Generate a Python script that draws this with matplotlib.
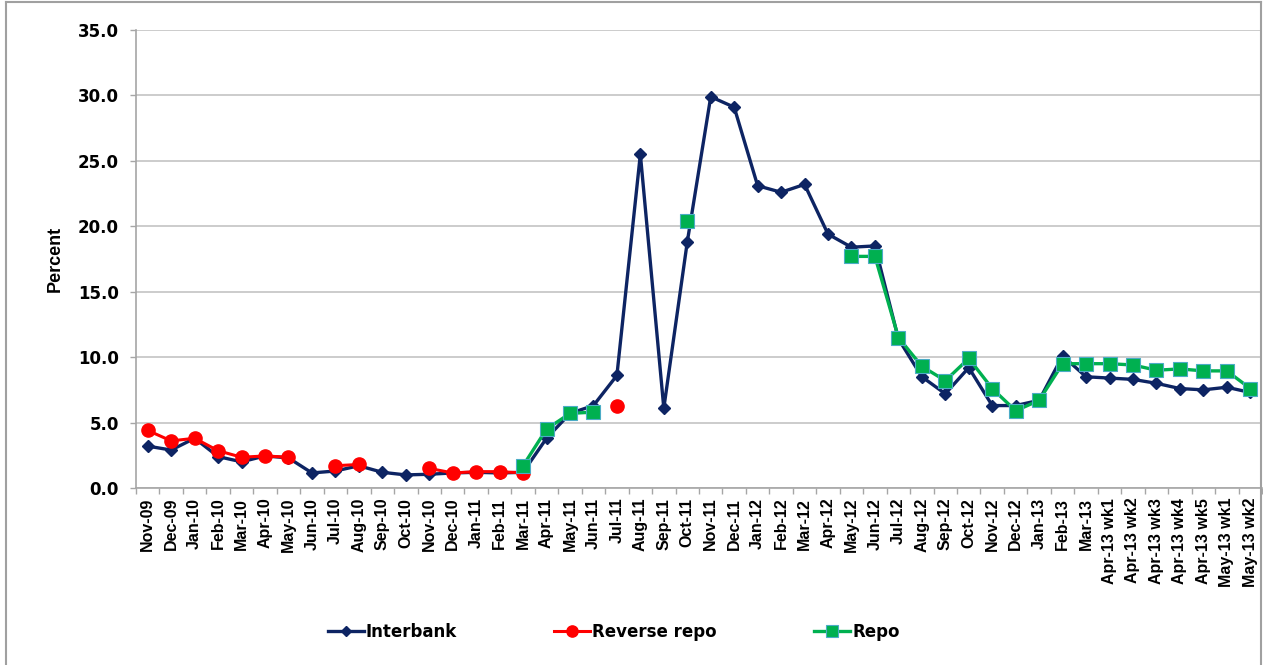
import numpy as np
import matplotlib
matplotlib.use("Agg")
import matplotlib.pyplot as plt
from matplotlib.lines import Line2D

nan = np.nan

months = [
    "Nov-09", "Dec-09", "Jan-10", "Feb-10", "Mar-10", "Apr-10", "May-10", "Jun-10",
    "Jul-10", "Aug-10", "Sep-10", "Oct-10", "Nov-10", "Dec-10", "Jan-11", "Feb-11",
    "Mar-11", "Apr-11", "May-11", "Jun-11", "Jul-11", "Aug-11", "Sep-11", "Oct-11",
    "Nov-11", "Dec-11", "Jan-12", "Feb-12", "Mar-12", "Apr-12", "May-12", "Jun-12",
    "Jul-12", "Aug-12", "Sep-12", "Oct-12", "Nov-12", "Dec-12", "Jan-13", "Feb-13",
    "Mar-13", "Apr-13 wk1", "Apr-13 wk2", "Apr-13 wk3", "Apr-13 wk4", "Apr-13 wk5",
    "May-13 wk1", "May-13 wk2",
]

interbank = [
    3.2, 2.9, 3.8, 2.4, 2.0, 2.45, 2.3, 1.15,
    1.3, 1.7, 1.2, 1.0, 1.05, 1.15, 1.2, 1.15,
    1.2, 3.8, 5.7, 6.3, 8.6, 25.5, 6.1, 18.8,
    29.9, 29.1, 23.1, 22.6, 23.2, 19.4, 18.4, 18.5,
    11.4, 8.5, 7.2, 9.2, 6.3, 6.3, 6.7, 10.1,
    8.5, 8.4, 8.3, 8.0, 7.6, 7.5, 7.7, 7.3,
]

reverse_repo = [
    4.4, 3.6, 3.8, 2.85, 2.35, 2.45, 2.35, nan,
    1.7, 1.8, nan, nan, 1.5, 1.15, 1.25, 1.25,
    1.15, nan, nan, nan, 6.3, nan, nan, nan,
    nan, nan, nan, nan, nan, nan, nan, nan,
    nan, nan, nan, nan, nan, nan, nan, nan,
    nan, nan, nan, nan, nan, nan, nan, nan,
]

repo = [
    nan, nan, nan, nan, nan, nan, nan, nan,
    nan, nan, nan, nan, nan, nan, nan, nan,
    1.7, 4.5, 5.7, 5.8, nan, nan, nan, 20.4,
    nan, nan, nan, nan, nan, nan, 17.7, 17.7,
    11.5, 9.3, 8.2, 9.9, 7.6, 5.9, 6.7, 9.5,
    9.5, 9.5, 9.4, 9.0, 9.1, 8.95, 8.95, 7.6,
]

plt.rcParams["font.family"] = ["Liberation Sans", "DejaVu Sans"]
plt.rcParams["font.weight"] = "bold"
wide = ["DejaVu Sans"]  # wider face for the horizontal texts

fig = plt.figure(figsize=(12.63, 6.65), dpi=100)
ax = fig.add_axes([136 / 1263, 1 - 488 / 665, 1126 / 1263, 458 / 665])

x = np.arange(len(months))
ax.plot(x, interbank, color="#0d2463", lw=2.4, marker="D", ms=6,
        label="Interbank", zorder=3)
ax.plot(x, reverse_repo, color="#ff0000", lw=2.2, marker="o", ms=9.5,
        label="Reverse repo", zorder=4)
ax.plot(x, repo, color="#00b050", lw=2.4, marker="s", ms=10.5,
        mec="#4bacc6", mew=0.8, label="Repo", zorder=5)

yt = np.arange(0, 35.1, 5)
ax.set_xlim(-0.5, len(months) - 0.5)
ax.set_ylim(0, 35)
ax.set_yticks(yt)
ax.set_yticklabels([f"{v:.1f}" for v in yt], fontsize=12, fontweight="bold",
                   family=wide)
ax.set_xticks(x)
ax.set_xticklabels(months, rotation=90, fontsize=11.5, fontweight="bold")
ax.set_xticks(np.arange(-0.5, len(months), 1), minor=True)
ax.tick_params(axis="x", which="major", length=0, pad=7)
ax.tick_params(axis="x", which="minor", length=4.5, color="#a6a6a6", width=1)
ax.tick_params(axis="y", length=4.5, color="#a6a6a6", width=1, pad=8)

ax.grid(axis="y", color="#c8c8c8", lw=1.3)
ax.set_axisbelow(True)
for s in ("top", "right"):
    ax.spines[s].set_visible(False)
for s in ("left", "bottom"):
    ax.spines[s].set_color("#a6a6a6")
    ax.spines[s].set_linewidth(1.2)

ax.set_ylabel("Percent", fontsize=13, fontweight="bold", va="center")
ax.yaxis.set_label_coords(-0.072, 0.5)

ax.legend(loc="center", bbox_to_anchor=(0.486, 0.05), bbox_transform=fig.transFigure,
          ncol=3, frameon=False, prop={"family": wide, "weight": "bold", "size": 12},
          handlelength=2.15, handletextpad=0.12, columnspacing=5.85,
          markerscale=0.85)

# outer chart border
grey = "#a0a0a0"
fig.add_artist(Line2D([6 / 1263, 1261 / 1263], [1 - 2 / 665, 1 - 2 / 665],
                      transform=fig.transFigure, color=grey, lw=1.5))
fig.add_artist(Line2D([6 / 1263, 6 / 1263], [0, 1 - 2 / 665],
                      transform=fig.transFigure, color=grey, lw=1.5))
fig.add_artist(Line2D([1261 / 1263, 1261 / 1263], [0, 1 - 2 / 665],
                      transform=fig.transFigure, color=grey, lw=1.5))

fig.savefig("out.png", dpi=100)
